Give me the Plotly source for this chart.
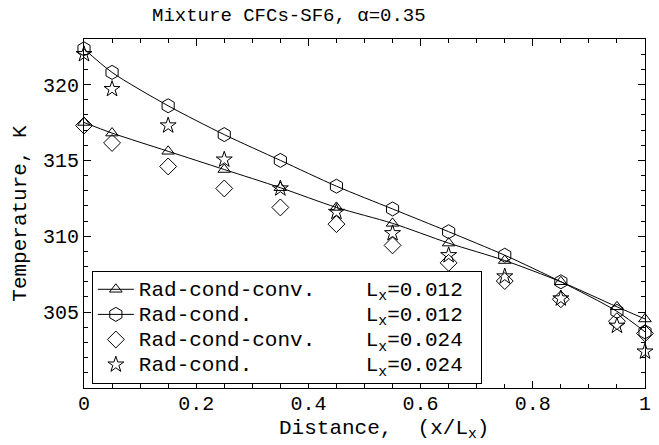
import plotly.graph_objects as go

# Normalised distance along the slab
x_pos = [0.0, 0.05, 0.15, 0.25, 0.35, 0.45, 0.55, 0.65, 0.75, 0.85, 0.95, 1.0]

# Temperature profiles (K)
t_rcc_012 = [317.5, 316.8, 315.6, 314.4, 313.2, 311.9, 310.85, 309.55, 308.4, 307.0, 305.35, 304.55]
t_rc_012 = [322.35, 320.8, 318.6, 316.7, 315.0, 313.3, 311.8, 310.3, 308.75, 307.0, 305.05, 303.7]
t_rcc_024 = [317.3, 316.15, 314.6, 313.15, 311.9, 310.8, 309.4, 308.25, 307.05, 305.85, 304.4, 303.6]
t_rc_024 = [322.0, 319.7, 317.3, 315.05, 313.15, 311.6, 310.2, 308.75, 307.35, 305.9, 304.1, 302.4]

NB = "\u00a0"
series_names = [
    "Rad-cond-conv." + NB * 4 + "L<sub>x</sub>=0.012",
    "Rad-cond." + NB * 9 + "L<sub>x</sub>=0.012",
    "Rad-cond-conv." + NB * 4 + "L<sub>x</sub>=0.024",
    "Rad-cond." + NB * 9 + "L<sub>x</sub>=0.024",
]

x_tickvals = [0, 0.2, 0.4, 0.6, 0.8, 1.0]
x_ticktext = ["0", "0.2", "0.4", "0.6", "0.8", "1"]
y_tickvals = [305, 310, 315, 320]
y_ticktext = ["305", "310", "315", "320"]

FONT = "Liberation Mono, Courier New, monospace"

fig = go.Figure()

specs = [
    (t_rcc_012, "triangle-up-open", 11, "lines+markers"),
    (t_rc_012, "hexagon-open", 14, "lines+markers"),
    (t_rcc_024, "diamond-open", 13, "markers"),
    (t_rc_024, "star-open", 12, "markers"),
]

for (vals, sym, size, mode), name in zip(specs, series_names):
    fig.add_trace(go.Scatter(
        x=x_pos, y=vals, mode=mode,
        name='<span style="font-size:21px">' + name + NB + "</span>",
        line=dict(color="black", width=1, shape="spline", smoothing=0.8),
        marker=dict(symbol=sym, size=size, color="black",
                    line=dict(color="black", width=1)),
        cliponaxis=False,
    ))

axis_common = dict(
    showline=True, linecolor="black", linewidth=1, mirror="allticks",
    ticks="inside", ticklen=7, tickcolor="black", tickwidth=1,
    showgrid=False, zeroline=False,
    tickfont=dict(family=FONT, size=20, color="black"),
)

fig.update_xaxes(
    range=[0, 1], tickvals=x_tickvals, ticktext=x_ticktext,
    minor=dict(dtick=0.05, ticks="inside", ticklen=4, tickcolor="black", tickwidth=1),
    ticklabelstandoff=-3,
    **axis_common,
)
fig.update_yaxes(
    range=[300, 323], tickvals=y_tickvals, ticktext=y_ticktext,
    minor=dict(dtick=1, ticks="inside", ticklen=4, tickcolor="black", tickwidth=1),
    title=dict(text="Temperature, K",
               font=dict(family=FONT, size=21, color="black"), standoff=10),
    **axis_common,
)

fig.update_layout(
    width=659, height=445,
    margin=dict(l=84, r=8, t=39, b=57),
    paper_bgcolor="white", plot_bgcolor="white",
    showlegend=True,
    legend=dict(
        x=0.014, y=0.336, xanchor="left", yanchor="top",
        bgcolor="white", bordercolor="black", borderwidth=1,
        font=dict(family=FONT, size=17, color="black"),
        tracegroupgap=0, itemwidth=36,
    ),
    annotations=[
        dict(
            text="Mixture CFCs-SF6, \u03b1=0.35", xref="paper", yref="paper",
            x=0.365, y=1.0, xanchor="center", yanchor="bottom", yshift=10,
            showarrow=False, font=dict(family=FONT, size=19, color="black"),
        ),
        dict(
            text="Distance," + NB * 2 + "(x/L<sub>x</sub>)", xref="paper", yref="paper",
            x=0.534, y=0, xanchor="center", yanchor="top", yshift=-27,
            showarrow=False, font=dict(family=FONT, size=21, color="black"),
        ),
    ],
)

fig.write_html("out.html")
